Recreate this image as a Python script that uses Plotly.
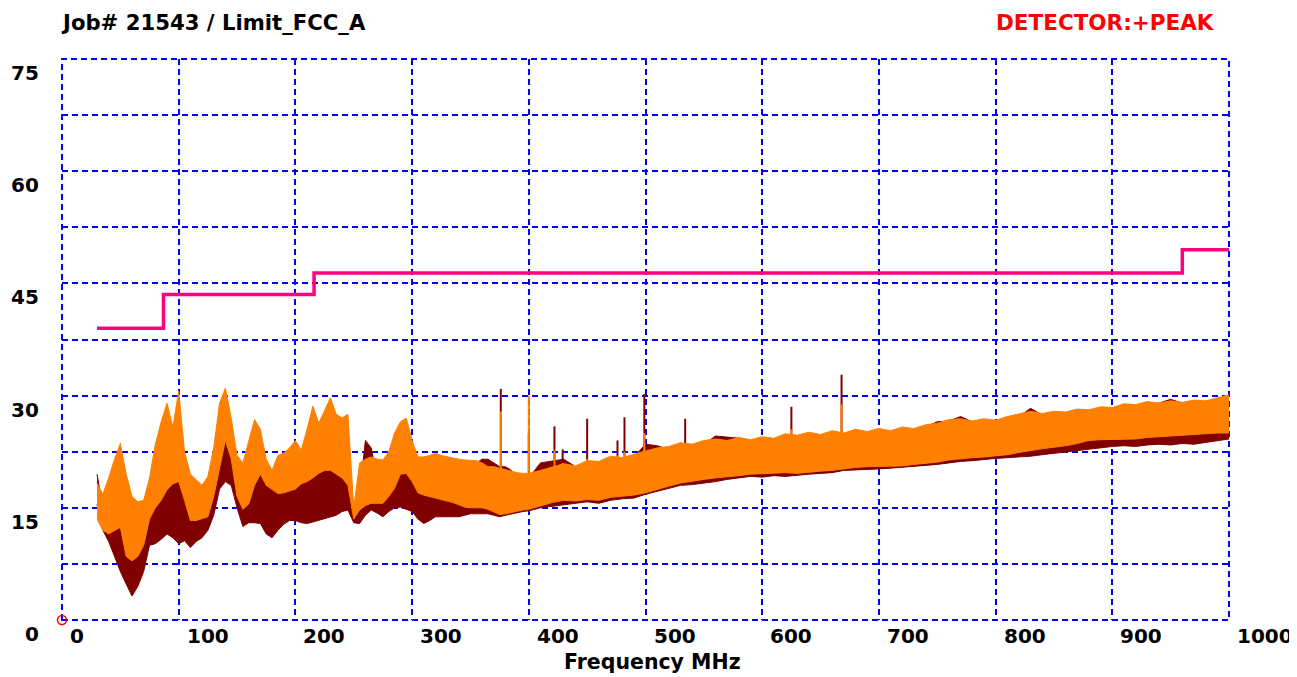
import plotly.graph_objects as go

# ---------------- data ----------------
freq_lo = list(range(30, 401, 5))      # 30..400 MHz, 5 MHz steps
freq_hi = list(range(410, 1001, 10))   # 410..1000 MHz, 10 MHz steps
freq = freq_lo + freq_hi

# orange trace: upper / lower envelope (dBuV/m)
orange_upper = [
    18.3, 16.8, 19.0, 21.5, 23.6, 19.5, 16.5, 15.8, 16.0, 19.0,
    23.5, 26.5, 29.0, 25.8, 30.6, 22.5, 19.5, 18.8, 18.0, 19.2,
    23.0, 29.0, 31.0, 27.0, 22.0, 21.0, 24.0, 26.8, 25.5, 21.5,
    20.0, 22.0, 22.3, 23.0, 24.0, 22.7, 25.5, 28.6, 26.3, 28.0,
    29.7, 27.5, 27.0, 27.5, 15.0, 21.0, 21.5, 21.8, 21.5, 21.4,
    22.5, 25.0, 26.5, 27.0, 24.0, 21.8, 21.8, 22.0, 22.3, 22.0,
    21.8, 21.6, 21.5, 21.4, 21.4, 21.3, 21.0, 20.5, 20.5, 20.3,
    20.0, 19.8, 19.7, 19.6, 19.6,
    20.0, 20.4, 20.9, 20.6, 21.3, 21.2, 21.9, 21.7, 22.2, 22.6,
    23.0, 23.2, 23.7, 23.5, 24.0, 24.2, 24.0, 24.4, 24.1, 24.5,
    24.3, 24.9, 24.7, 25.1, 24.8, 25.3, 25.0, 25.5, 25.2, 25.6,
    25.3, 25.8, 25.6, 26.1, 26.3, 26.8, 26.9, 26.6, 26.9, 26.7,
    27.2, 27.5, 27.9, 27.6, 27.9, 27.8, 28.2, 28.1, 28.5, 28.4,
    28.9, 28.8, 29.2, 29.0, 29.3, 29.1, 29.4, 29.3, 29.7, 30.1,
]
orange_lower = [
    13.5, 12.0, 11.5, 12.0, 12.4, 8.5, 7.9, 8.5, 10.0, 13.5,
    15.0, 16.0, 17.4, 18.2, 18.5, 16.0, 13.3, 13.3, 13.5, 13.8,
    16.5, 20.5, 24.0, 21.5, 16.5, 14.8, 15.5, 18.0, 19.5, 18.0,
    17.4, 16.9, 17.0, 17.2, 17.5, 18.2, 18.5, 19.0, 19.6, 20.0,
    20.0, 19.5, 19.0, 18.0, 13.5, 14.7, 15.3, 15.6, 15.6, 15.6,
    16.5, 17.6, 19.5, 19.6, 18.5, 17.0, 16.7, 16.5, 16.4, 16.2,
    16.0, 15.7, 15.4, 15.1, 15.0, 15.0, 15.0, 14.8, 14.5, 14.1,
    14.2, 14.4, 14.6, 14.7, 14.8,
    15.3, 15.7, 16.0, 15.9, 16.1, 16.0, 16.4, 16.5, 16.7, 17.0,
    17.5, 17.9, 18.3, 18.6, 18.8, 19.0, 19.1, 19.3, 19.5, 19.6,
    19.6, 19.7, 19.6, 19.8, 19.9, 20.0, 20.2, 20.4, 20.5, 20.5,
    20.5, 20.6, 20.8, 20.9, 21.1, 21.4, 21.6, 21.7, 21.8, 21.9,
    22.1, 22.4, 22.7, 22.9, 23.1, 23.3, 23.6, 24.0, 24.1, 24.1,
    24.1, 24.2, 24.4, 24.5, 24.6, 24.7, 24.8, 24.9, 25.0, 25.0,
]

# maroon trace: upper / lower envelope (dBuV/m)
maroon_upper = [
    19.5, 15.0, 14.0, 15.0, 17.0, 14.0, 12.0, 12.0, 12.0, 15.0,
    18.0, 20.0, 21.0, 21.0, 22.0, 19.0, 16.0, 16.0, 16.0, 16.0,
    19.0, 23.0, 25.5, 24.0, 20.0, 18.0, 20.0, 21.0, 21.0, 19.0,
    19.0, 19.0, 19.0, 19.0, 19.5, 20.0, 20.5, 21.0, 21.5, 22.0,
    22.0, 21.0, 21.0, 20.0, 14.5, 17.0, 24.0, 23.0, 19.0, 19.0,
    20.0, 21.0, 22.0, 22.0, 21.0, 19.0, 19.0, 19.0, 19.0, 19.0,
    19.0, 19.0, 19.0, 19.0, 19.5, 21.0, 21.5, 21.5, 21.0, 20.5,
    20.5, 20.0, 19.0, 19.0, 19.0,
    21.0, 21.3, 21.5, 20.5, 20.8, 21.0, 21.2, 21.4, 21.8, 23.5,
    23.3, 22.8, 23.0, 23.3, 23.5, 24.6, 24.5, 24.3, 24.0, 24.2,
    24.0, 24.4, 24.5, 24.6, 24.5, 24.8, 24.7, 25.0, 25.0, 25.2,
    25.0, 25.5, 25.5, 25.8, 26.5, 26.6, 27.2, 26.5, 26.7, 26.5,
    26.8, 27.2, 28.3, 27.4, 27.5, 27.6, 28.0, 28.0, 28.2, 28.2,
    28.5, 28.6, 28.8, 29.0, 29.5, 29.0, 29.2, 29.1, 29.2, 29.6,
]
maroon_lower = [
    15.5, 12.0, 10.5, 8.5, 6.5, 4.8, 3.2, 4.5, 6.5, 10.0,
    10.2, 10.8, 11.5, 11.0, 10.2, 10.6, 9.7, 10.5, 11.0, 12.0,
    14.0, 17.5, 18.5, 18.0, 15.0, 12.5, 13.0, 13.0, 12.9, 11.5,
    11.0, 12.0, 12.8, 13.3, 13.3, 13.0, 12.9, 13.1, 13.3, 13.5,
    13.8, 14.0, 14.5, 14.7, 13.0, 12.9, 14.0, 14.7, 14.3, 13.8,
    14.5, 15.0, 15.1, 14.8, 14.5, 13.5, 12.9, 13.3, 13.8, 13.8,
    13.8, 13.8, 13.8, 14.0, 14.2, 14.2, 14.2, 14.2, 14.0, 13.8,
    14.0, 14.2, 14.4, 14.5, 14.6,
    15.0, 15.2, 15.4, 15.6, 15.8, 15.6, 16.0, 16.2, 16.3, 16.8,
    17.2, 17.7, 18.0, 18.1, 18.3, 18.5, 18.8, 19.0, 19.2, 19.1,
    19.3, 19.2, 19.4, 19.5, 19.6, 19.7, 20.0, 20.1, 20.2, 20.2,
    20.3, 20.4, 20.5, 20.6, 20.8, 21.0, 21.2, 21.3, 21.5, 21.6,
    21.7, 21.8, 21.9, 22.1, 22.3, 22.5, 22.6, 22.8, 23.0, 23.2,
    23.3, 23.2, 23.4, 23.5, 23.4, 23.6, 23.5, 23.7, 23.9, 24.2,
]

# narrow spikes
spike_freq = [376, 400, 422, 429, 450, 476, 482, 499, 534, 625, 668]
spike_base = [17.0, 17.0, 18.0, 18.0, 18.5, 19.0, 19.0, 19.5, 20.5, 22.0, 22.5]
spike_maroon_top = [30.9, 25.0, 25.9, 22.8, 26.9, 24.0, 27.1, 30.2, 26.9, 28.5, 32.8]
spike_orange_top = [27.9, 30.0, 22.7, 21.0, 21.5, 22.0, 22.5, 25.0, 23.5, 25.5, 28.8]

# FCC class A limit
limit_freq = [30, 87, 216, 960, 1000]
limit_level = [39.0, 43.5, 46.4, 49.5, 49.5]

x_ticks = [0, 100, 200, 300, 400, 500, 600, 700, 800, 900, 1000]
y_ticks = [0, 15, 30, 45, 60, 75]

title_text = "Job# 21543 / Limit_FCC_A"
detector_text = "DETECTOR:+PEAK"
x_title = "Frequency MHz"

assert len(freq) == len(orange_upper) == len(orange_lower) == len(maroon_upper) == len(maroon_lower)

# ---------------- styles ----------------
MAROON = "#800000"
ORANGE = "#FF8000"
LIMIT = "#FF0080"
GRID = "#0000FF"
DASH = "6px,4px"
FONT = "DejaVu Sans"
PAGE_OFFSET = 8  # default body margin of the html page


def spikes(xs, bases, tops):
    sx, sy = [], []
    for x, b, t in zip(xs, bases, tops):
        sx += [x, x, None]
        sy += [b, t, None]
    return sx, sy


fig = go.Figure()

# maroon band
fig.add_trace(go.Scatter(x=freq, y=maroon_upper, mode="lines",
                         line=dict(color=MAROON, width=1),
                         hoverinfo="skip", showlegend=False))
fig.add_trace(go.Scatter(x=freq, y=maroon_lower, mode="lines", fill="tonexty",
                         fillcolor=MAROON,
                         line=dict(color=MAROON, width=1),
                         hoverinfo="skip", showlegend=False))
sx, sy = spikes(spike_freq, spike_base, spike_maroon_top)
fig.add_trace(go.Scatter(x=sx, y=sy, mode="lines",
                         line=dict(color=MAROON, width=2),
                         hoverinfo="skip", showlegend=False))

# orange band
fig.add_trace(go.Scatter(x=freq, y=orange_upper, mode="lines",
                         line=dict(color=ORANGE, width=1),
                         hoverinfo="skip", showlegend=False))
fig.add_trace(go.Scatter(x=freq, y=orange_lower, mode="lines", fill="tonexty",
                         fillcolor=ORANGE,
                         line=dict(color=ORANGE, width=1),
                         hoverinfo="skip", showlegend=False))
sx, sy = spikes(spike_freq, spike_base, spike_orange_top)
fig.add_trace(go.Scatter(x=sx, y=sy, mode="lines",
                         line=dict(color=ORANGE, width=2),
                         hoverinfo="skip", showlegend=False))

# limit line
fig.add_trace(go.Scatter(x=limit_freq, y=limit_level, mode="lines",
                         line=dict(color=LIMIT, width=3.5, shape="hv"),
                         hoverinfo="skip", showlegend=False))

# origin marker
fig.add_trace(go.Scatter(x=[x_ticks[0]], y=[y_ticks[0]], mode="markers",
                         marker=dict(symbol="circle-open", size=9,
                                     color="#FF0000", line=dict(width=1.5)),
                         cliponaxis=False, hoverinfo="skip", showlegend=False))

annotations = []
for v in x_ticks:
    annotations.append(dict(x=v, xref="x", y=0, yref="paper", text=f"<b>{v}</b>",
                            showarrow=False, xanchor="left", yanchor="middle",
                            xshift=6, yshift=-16,
                            font=dict(family=FONT, size=20, color="black")))
for v in y_ticks:
    annotations.append(dict(x=0, xref="paper", y=v, yref="y", text=f"<b>{v}</b>",
                            showarrow=False, xanchor="right", yanchor="middle",
                            xshift=-21, yshift=-14,
                            font=dict(family=FONT, size=20, color="black")))
annotations.append(dict(x=0, xref="paper", y=1, yref="paper", text=f"<b>{title_text}</b>",
                        showarrow=False, xanchor="left", yanchor="middle",
                        xshift=-3, yshift=37,
                        font=dict(family=FONT, size=21.2, color="black")))
annotations.append(dict(x=1, xref="paper", y=1, yref="paper", text=f"<b>{detector_text}</b>",
                        showarrow=False, xanchor="right", yanchor="middle",
                        xshift=-12, yshift=37,
                        font=dict(family=FONT, size=21.5, color="#FF0000")))
annotations.append(dict(x=0.5056, xref="paper", y=0, yref="paper", text=f"<b>{x_title}</b>",
                        showarrow=False, xanchor="center", yanchor="middle",
                        yshift=-42,
                        font=dict(family=FONT, size=20.5, color="black")))

fig.update_layout(
    width=1297 - PAGE_OFFSET, height=677 - PAGE_OFFSET,
    margin=dict(l=62 - PAGE_OFFSET, r=68, t=59 - PAGE_OFFSET, b=57),
    paper_bgcolor="white", plot_bgcolor="white",
    showlegend=False,
    annotations=annotations,
    shapes=[dict(type="rect", xref="paper", yref="paper", x0=0, x1=1, y0=0, y1=1,
                 line=dict(color=GRID, width=2, dash=DASH), layer="below")],
    xaxis=dict(range=[0, 1000], tick0=0, dtick=100, showgrid=True,
               gridcolor=GRID, gridwidth=2, griddash=DASH,
               zeroline=False, showline=False, showticklabels=False, ticks=""),
    yaxis=dict(range=[0, 75], tick0=0, dtick=7.5, showgrid=True,
               gridcolor=GRID, gridwidth=2, griddash=DASH,
               zeroline=False, showline=False, showticklabels=False, ticks=""),
)

fig.write_html("out.html")
